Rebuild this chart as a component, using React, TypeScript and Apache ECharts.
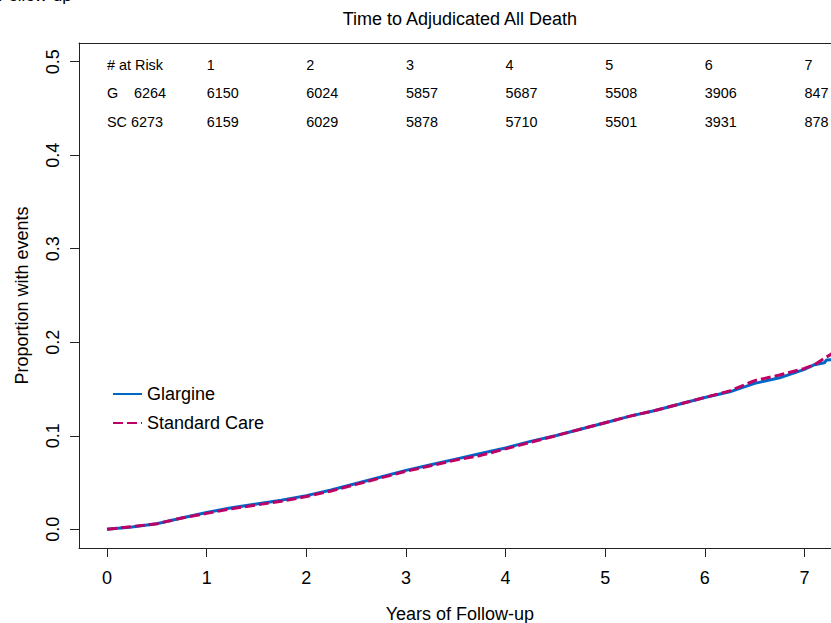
import React, { useEffect, useRef } from "react";
import * as echarts from "echarts";

const FONT = "'Liberation Sans', Arial, Helvetica, sans-serif";

const chartTitle = "Time to Adjudicated All Death";
const xAxisTitle = "Years of Follow-up";
const yAxisTitle = "Proportion with events";
const cutText = "Follow-up";

const xTicks = [0, 1, 2, 3, 4, 5, 6, 7];
const yTicks = [0, 0.1, 0.2, 0.3, 0.4, 0.5];

const glargineX = [0, 0.25, 0.5, 0.75, 1, 1.25, 1.5, 1.75, 2, 2.25, 2.5, 2.75, 3, 3.25, 3.5, 3.75, 4, 4.25, 4.5, 4.75, 5, 5.25, 5.5, 5.75, 6, 6.25, 6.5, 6.75, 7, 7.1, 7.2, 7.22, 7.35];
const glargineY = [0, 0.0025, 0.006, 0.012, 0.018, 0.023, 0.027, 0.031, 0.036, 0.042, 0.049, 0.056, 0.063, 0.069, 0.075, 0.081, 0.087, 0.094, 0.1, 0.107, 0.114, 0.121, 0.127, 0.134, 0.141, 0.147, 0.156, 0.162, 0.171, 0.176, 0.178, 0.181, 0.182];

const scX = [0, 0.25, 0.5, 0.75, 1, 1.25, 1.5, 1.75, 2, 2.25, 2.5, 2.75, 3, 3.25, 3.5, 3.75, 4, 4.25, 4.5, 4.75, 5, 5.25, 5.5, 5.75, 6, 6.25, 6.5, 6.75, 7, 7.1, 7.2, 7.25, 7.3, 7.35];
const scY = [0, 0.0028, 0.006, 0.012, 0.017, 0.022, 0.026, 0.03, 0.035, 0.041, 0.048, 0.055, 0.062, 0.068, 0.074, 0.079, 0.086, 0.093, 0.1, 0.107, 0.114, 0.121, 0.127, 0.134, 0.141, 0.148, 0.159, 0.165, 0.172, 0.176, 0.183, 0.186, 0.19, 0.191];

const riskHeader = ["# at Risk", "1", "2", "3", "4", "5", "6", "7"];
const riskGroupLabels = ["G", "SC"];
const riskG = [6264, 6150, 6024, 5857, 5687, 5508, 3906, 847];
const riskSC = [6273, 6159, 6029, 5878, 5710, 5501, 3931, 878];

const seriesNames = ["Glargine", "Standard Care"];
const BLUE = "#0066c8";
const MAGENTA = "#be0064";

const X_MIN = -0.281;
const X_MAX = 7.266;
const X_FULL_MAX = 7.364;

export default function App() {
  const ref = useRef<HTMLDivElement>(null);

  useEffect(() => {
    if (!ref.current) return;
    const chart = echarts.init(ref.current, undefined, { renderer: "svg" });

    const axisLineStyle = { color: "#222", width: 1 };

    chart.setOption({
      animation: false,
      textStyle: { fontFamily: FONT },
      grid: {
        left: 79,
        top: 43,
        right: 0,
        height: 505,
        show: false,
      },
      legend: {
        orient: "vertical",
        left: 107,
        top: 380,
        itemWidth: 29,
        itemHeight: 14,
        itemGap: 11,
        itemStyle: { opacity: 0 },
        textStyle: { fontSize: 18, color: "#000", fontFamily: FONT },
        data: seriesNames,
      },
      xAxis: [
        {
          type: "value",
          min: X_MIN,
          max: X_MAX,
          splitLine: { show: false },
          axisLine: { show: true, onZero: false, lineStyle: axisLineStyle },
          axisTick: {
            show: true,
            inside: false,
            length: 9,
            customValues: xTicks,
            lineStyle: axisLineStyle,
          },
          axisLabel: {
            customValues: xTicks,
            fontSize: 18,
            color: "#000",
            margin: 21,
            fontFamily: FONT,
            formatter: (v: number) => String(v),
          },
        },
        {
          type: "value",
          position: "top",
          min: X_MIN,
          max: X_MAX,
          splitLine: { show: false },
          axisLine: { show: true, onZero: false, lineStyle: axisLineStyle },
          axisTick: { show: false },
          axisLabel: { show: false },
        },
      ],
      yAxis: {
        type: "value",
        min: -0.02,
        max: 0.52,
        splitLine: { show: false },
        axisLine: { show: true, onZero: false, lineStyle: axisLineStyle },
        axisTick: {
          show: true,
          inside: false,
          length: 9,
          customValues: yTicks,
          lineStyle: axisLineStyle,
        },
        axisLabel: {
          customValues: yTicks,
          rotate: 90,
          fontSize: 18,
          color: "#000",
          margin: 17,
          fontFamily: FONT,
          formatter: (v: number) => v.toFixed(1),
        },
      },
      series: [
        {
          name: seriesNames[0],
          type: "line",
          data: glargineX.map((x, i) => [x, glargineY[i]]),
          symbol: "none",
          showSymbol: false,
          lineStyle: { color: BLUE, width: 3 },
          itemStyle: { color: BLUE },
          clip: true,
        },
        {
          name: seriesNames[1],
          type: "line",
          data: scX.map((x, i) => [x, scY[i]]),
          symbol: "none",
          showSymbol: false,
          lineStyle: { color: MAGENTA, width: 3, type: [10, 4] },
          itemStyle: { color: MAGENTA },
          clip: true,
        },
      ],
    });

    const px = (v: number) => chart.convertToPixel({ xAxisIndex: 0 }, v) as number;
    const txt = (x: number, y: number, text: string, size: number, extra: any = {}) => ({
      type: "text",
      x,
      y,
      style: {
        text,
        fontSize: size,
        fontFamily: FONT,
        fill: "#000",
        textAlign: "left",
        textVerticalAlign: "middle",
        ...extra,
      },
    });

    const tableSize = 14.4;
    const rowY = [65, 93, 122];
    const elements: any[] = [];
    riskHeader.forEach((h, k) => {
      elements.push(txt(px(k), rowY[0], h, tableSize));
    });
    elements.push(txt(px(0), rowY[1], riskGroupLabels[0], tableSize));
    elements.push(txt(px(0), rowY[2], riskGroupLabels[1], tableSize));
    riskG.forEach((v, k) => {
      elements.push(txt(k === 0 ? px(0) + 27 : px(k), rowY[1], String(v), tableSize));
    });
    riskSC.forEach((v, k) => {
      elements.push(txt(k === 0 ? px(0) + 24 : px(k), rowY[2], String(v), tableSize));
    });

    const centerX = (px(X_MIN) + px(X_FULL_MAX)) / 2;
    elements.push(txt(centerX, 19, chartTitle, 18, { textAlign: "center" }));
    elements.push(txt(centerX, 614, xAxisTitle, 18, { textAlign: "center" }));
    elements.push({
      type: "text",
      x: 22,
      y: 295.5,
      rotation: Math.PI / 2,
      style: {
        text: yAxisTitle,
        fontSize: 18,
        fontFamily: FONT,
        fill: "#000",
        textAlign: "center",
        textVerticalAlign: "middle",
      },
    });
    elements.push({
      type: "text",
      x: -2,
      y: 4,
      style: {
        text: cutText,
        fontSize: 17,
        fontFamily: FONT,
        fill: "#000",
        textAlign: "left",
        textVerticalAlign: "bottom",
      },
    });

    chart.setOption({ graphic: { elements } });

    return () => chart.dispose();
  }, []);

  return (
    <div
      ref={ref}
      style={{ position: "fixed", left: 0, top: 0, width: 831, height: 623, background: "#fff" }}
    />
  );
}
